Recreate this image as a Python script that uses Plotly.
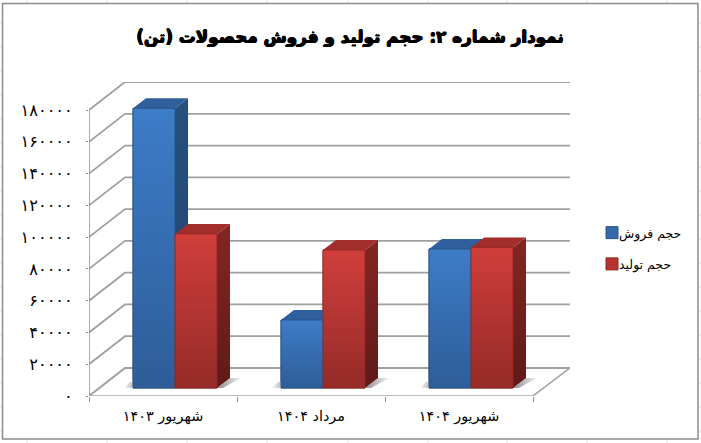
import plotly.graph_objects as go

# ---- data ----
categories = ["شهریور ۱۴۰۳", "مرداد ۱۴۰۴", "شهریور ۱۴۰۴"]
sales = [176000, 42800, 87500]
production = [97000, 86800, 88500]
series_names = ["حجم فروش", "حجم تولید"]
y_ticks = [0, 20000, 40000, 60000, 80000, 100000, 120000, 140000, 160000, 180000]
y_labels = ["۰", "۲۰۰۰۰", "۴۰۰۰۰", "۶۰۰۰۰", "۸۰۰۰۰", "۱۰۰۰۰۰", "۱۲۰۰۰۰", "۱۴۰۰۰۰", "۱۶۰۰۰۰", "۱۸۰۰۰۰"]
title_text = "نمودار شماره ۲: حجم تولید و فروش محصولات (تن)"

# ---- geometry (pixels) ----
W, H = 701, 443
L, R, T, B = 89, 570, 82, 396        # plot-area box
CAT_PX = 148.0                       # px per category
K = 286 / 180000                     # px per value unit
FRONT_X = 533
WALL_DX, WALL_DY = 36, 28            # depth of the whole box
BAR_DX, BAR_DY = 12, 8               # depth of the bar plane
BAR_W = 42 / CAT_PX
D_X, D_Y = 13 / CAT_PX, 10 / K       # depth of a bar

def px(x):
    return (x - L) / (R - L)
def py(y):
    return (B - y) / (B - T)

fig = go.Figure()

def line(xs, ys, color="#a3a3a3", width=1.6, axes=("x", "y")):
    fig.add_trace(go.Scatter(x=xs, y=ys, mode="lines", line=dict(color=color, width=width),
                             xaxis=axes[0], yaxis=axes[1], showlegend=False, hoverinfo="skip",
                             cliponaxis=False))

# walls
wx, wy = WALL_DX / CAT_PX, WALL_DY / K
x_end = 2.5 + (R - FRONT_X) / CAT_PX
for v in y_ticks:
    line([-0.5, -0.5 + wx, x_end], [v, v + wy, v + wy], color="#a0a0a0", width=1.8 if v else 2)
line([-0.5, -0.5], [0, y_ticks[-1]], color="#8f8f8f", width=1.5)
line([-0.5, 2.5, x_end], [0, 0, wy], color="#a8a8a8", width=1.6)

def poly(xs, ys, colors=None, kind="vertical", line_color=None, fill=None):
    kw = dict(fill="toself", mode="lines", x=xs + xs[:1], y=ys + ys[:1], xaxis="x2", yaxis="y2",
              showlegend=False, hoverinfo="skip", cliponaxis=False,
              line=dict(color=line_color or "rgba(0,0,0,0)", width=0.8))
    if colors:
        kw["fillgradient"] = dict(type=kind, colorscale=[[0, colors[0]], [1, colors[1]]])
    else:
        kw["fillcolor"] = fill
    fig.add_trace(go.Scatter(**kw))

# real bars, on the bar plane
palette = [
    dict(flat="#3568a8", front=("#2e5d98", "#3d7cc8"), side=("#1f4470", "#27507f"), top="#2f5f9c", edge="#2a5282"),
    dict(flat="#b8322f", front=("#952b28", "#d03e3b"), side=("#5f1a18", "#842623"), top="#a32d2a", edge="#8f2724"),
]
for name, vals, p, off in zip(series_names, [sales, production], palette, [-1, 0]):
    fig.add_trace(go.Bar(x=list(range(len(categories))), y=vals, name=name, xaxis="x2", yaxis="y2",
                         legendgroup=name,
                         marker=dict(color=p["flat"], line=dict(color=p["edge"], width=1)),
                         width=BAR_W, offset=BAR_W * off, hoverinfo="skip"))

# floor shadows
for i in range(len(categories)):
    right = i + BAR_W
    poly([right, right + D_X, right + D_X + 11 / CAT_PX, right + 6 / CAT_PX],
         [0, D_Y, D_Y, 0], colors=("#8e8e8e", "#f2f2f2"), kind="horizontal")
    left = i - BAR_W
    poly([left, left + 0.01, left - 3 / CAT_PX, left - 9 / CAT_PX],
         [0, 6 / K, 6 / K, 0], colors=("#f4f4f4", "#b8b8b8"), kind="horizontal")

# 3-D faces of each bar
for vals, p, off in zip([sales, production], palette, [-1, 0]):
    for i, v in enumerate(vals):
        a = i + off * BAR_W
        b = a + BAR_W
        poly([b, b + D_X, b + D_X, b], [0, D_Y, v + D_Y, v], colors=p["side"])
        poly([a, a + D_X, b + D_X, b], [v, v + D_Y, v + D_Y, v], fill=p["top"])
        poly([a, b, b, a], [0, 0, v, v], colors=p["front"], line_color=p["edge"])

# spreadsheet grid showing round the chart frame, and the frame itself
shapes = []
for gx in [27, 107, 187, 267, 348, 428, 507, 587, 667]:
    shapes.append(dict(type="line", xref="paper", yref="paper", x0=px(gx), x1=px(gx), y0=py(0), y1=py(H),
                       line=dict(color="#e2e2e2", width=1), layer="below"))
for gy in [23, 47, 71, 95, 119, 143, 167, 191, 215, 239, 263, 287, 311, 335, 359, 383, 407, 431]:
    shapes.append(dict(type="line", xref="paper", yref="paper", x0=px(0), x1=px(W), y0=py(gy), y1=py(gy),
                       line=dict(color="#e2e2e2", width=1), layer="below"))
shapes.append(dict(type="rect", xref="paper", yref="paper", x0=px(2.5), x1=px(698), y0=py(3.5), y1=py(439),
                   line=dict(color="#8c8c8c", width=1.5), fillcolor="white", layer="below"))

font = "DejaVu Sans"
fig.update_layout(
    width=W, height=H, margin=dict(l=L, r=W - R, t=T, b=H - B, pad=0),
    paper_bgcolor="white", plot_bgcolor="rgba(0,0,0,0)",
    font=dict(family=font, color="black"),
    barmode="overlay", shapes=shapes, hovermode=False,
    title=dict(text=title_text,
               font=dict(family=font, size=16.8, color="black", weight="bold",
                         shadow="0.6px 0 0 black, -0.6px 0 0 black, 0 0.5px 0 black, 0 -0.5px 0 black"),
               x=350 / W, xanchor="center", xref="container",
               y=1 - 37 / H, yanchor="middle"),
    xaxis=dict(range=[-0.5, x_end], tickmode="array", tickvals=list(range(len(categories))), ticktext=categories,
               showgrid=False, zeroline=False, showline=False, ticks="", tickfont=dict(size=14.4),
               ticklabelstandoff=10,
               minor=dict(tickmode="array", tickvals=[-0.5, 0.5, 1.5, 2.5], ticks="outside", ticklen=5,
                          tickwidth=1, tickcolor="#8f8f8f", showgrid=False)),
    yaxis=dict(range=[0, (B - T) / K], tickmode="array", tickvals=y_ticks, ticktext=y_labels,
               showgrid=False, zeroline=False, showline=False, ticks="outside", ticklen=2, tickcolor="#8f8f8f",
               tickfont=dict(size=16.2), ticklabelstandoff=10),
    xaxis2=dict(range=[-0.5 - BAR_DX / CAT_PX, x_end - BAR_DX / CAT_PX], overlaying="x", visible=False),
    yaxis2=dict(range=[-BAR_DY / K, (B - T - BAR_DY) / K], overlaying="y", visible=False),
    legend=dict(x=px(594), y=py(218), xanchor="left", yanchor="top", bgcolor="rgba(0,0,0,0)",
                itemwidth=30, traceorder="grouped", tracegroupgap=12, font=dict(size=12.5),
                itemclick=False, indentation=-15),
    showlegend=True,
)

# The swatches sit closer to their text than Plotly's fixed legend gap allows.
fig.write_html("out.html", config=dict(displayModeBar=False),
               post_script="document.body.style.margin='0';document.body.style.overflow='hidden';"
                           "document.querySelectorAll('.legend .legendsymbols').forEach("
                           "function(e){e.setAttribute('transform','translate(13,0)');});")
